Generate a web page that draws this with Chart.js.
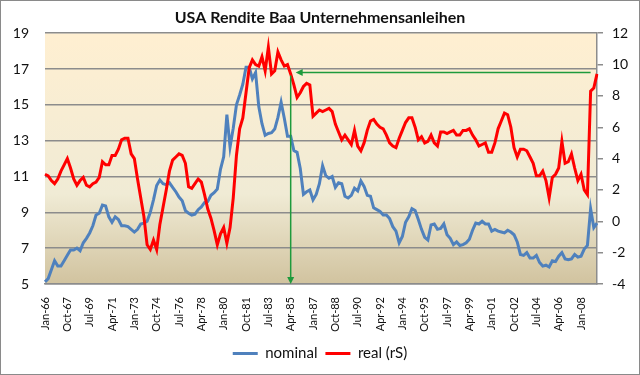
<!DOCTYPE html>
<html>
<head>
<meta charset="utf-8">
<script src="https://cdn.jsdelivr.net/npm/chart.js@4.4.1/dist/chart.umd.min.js"></script>
<style>
  html, body { margin: 0; padding: 0; background: #fff; }
  #wrap { width: 638px; height: 373px; border: 1px solid #8a8a8a; }
</style>
</head>
<body>
<div id="wrap"><canvas id="bondChart" width="638" height="373"></canvas></div>
<script>
// quarterly readings, Jan-66 .. Apr-09
const nominal = [
  5.12, 5.3, 5.8, 6.3,      // 1966
  6.0, 6.0, 6.3, 6.6,       // 1967
  6.9, 6.9, 7.0, 6.85,      // 1968
  7.3, 7.55, 7.85, 8.25,    // 1969
  8.85, 8.95, 9.4, 9.35,    // 1970
  8.75, 8.45, 8.75, 8.6,    // 1971
  8.25, 8.25, 8.2, 8.05,    // 1972
  7.9, 8.05, 8.35, 8.4,     // 1973
  8.5, 9.0, 9.7, 10.5,      // 1974
  10.8, 10.6, 10.55, 10.65, // 1975
  10.4, 10.15, 9.85, 9.65,  // 1976
  9.1, 8.95, 8.85, 8.9,     // 1977
  9.15, 9.3, 9.55, 9.6,     // 1978
  9.95, 10.1, 10.3, 11.4,   // 1979
  12.1, 14.45, 12.65, 13.7, // 1980
  15.0, 15.55, 16.15, 17.1, // 1981
  17.1, 16.45, 16.8, 14.9,  // 1982
  13.95, 13.3, 13.4, 13.45, // 1983
  13.65, 14.3, 15.15, 14.25,// 1984
  13.25, 13.25, 12.45, 12.35,// 1985
  11.45, 10.0, 10.15, 10.25,// 1986
  9.7, 10.0, 10.6, 11.6,    // 1987
  11.05, 10.9, 11.0, 10.4,  // 1988
  10.65, 10.6, 9.9, 9.8,    // 1989
  9.95, 10.35, 10.2, 10.75, // 1990
  10.45, 9.95, 9.9, 9.25,   // 1991
  9.15, 9.05, 8.85, 8.85,   // 1992
  8.65, 8.2, 7.95, 7.3,     // 1993
  7.65, 8.45, 8.75, 9.2,    // 1994
  9.1, 8.6, 8.05, 7.6,      // 1995
  7.45, 8.3, 8.35, 8.05,    // 1996
  8.1, 8.35, 7.75, 7.55,    // 1997
  7.2, 7.35, 7.15, 7.2,     // 1998
  7.3, 7.5, 8.0, 8.4,       // 1999
  8.35, 8.5, 8.35, 8.35,    // 2000
  7.95, 8.05, 7.95, 7.9,    // 2001
  7.85, 8.0, 7.9, 7.75,     // 2002
  7.35, 6.65, 6.6, 6.75,    // 2003
  6.45, 6.45, 6.6, 6.2,     // 2004
  6.0, 6.05, 5.95, 6.3,     // 2005
  6.25, 6.55, 6.75, 6.4,    // 2006
  6.35, 6.4, 6.65, 6.5,     // 2007
  6.55, 6.95, 7.15, 9.2,    // 2008
  8.15, 8.4                 // 2009
];

const realRS = [
  3.0, 2.9, 2.6, 2.4,       // 1966
  2.7, 3.2, 3.6, 4.0,       // 1967
  3.4, 2.7, 2.3, 2.6,       // 1968
  2.8, 2.3, 2.2, 2.4,       // 1969
  2.5, 2.8, 3.8, 3.6,       // 1970
  3.6, 4.2, 4.2, 4.6,       // 1971
  5.2, 5.3, 5.3, 4.3,       // 1972
  4.0, 2.7, 1.5, 0.3,       // 1973
  -1.5, -1.8, -1.2, -1.8,   // 1974
  -0.2, 0.9, 2.0, 3.2,      // 1975
  3.9, 4.1, 4.3, 4.2,       // 1976
  3.7, 2.2, 2.1, 2.4,       // 1977
  2.7, 2.5, 1.7, 0.8,       // 1978
  0.2, -0.6, -1.5, -0.8,    // 1979
  -0.4, -1.4, -0.4, 1.5,    // 1980
  4.2, 5.9, 6.6, 8.2,       // 1981
  9.8, 10.3, 10.0, 9.9,     // 1982
  10.5, 9.6, 11.1, 9.4,     // 1983
  9.6, 10.8, 10.3, 9.9,     // 1984
  10.0, 9.4, 8.7, 7.9,      // 1985
  8.2, 8.6, 8.8, 8.7,       // 1986
  6.7, 6.9, 7.1, 7.0,       // 1987
  7.1, 7.2, 7.0, 6.2,       // 1988
  5.7, 5.2, 5.5, 5.2,       // 1989
  4.9, 5.8, 4.8, 4.5,       // 1990
  5.0, 5.8, 6.4, 6.5,       // 1991
  6.2, 6.0, 5.9, 5.5,       // 1992
  5.0, 4.8, 4.7, 5.3,       // 1993
  5.8, 6.3, 6.6, 6.6,       // 1994
  6.0, 5.2, 5.4, 5.0,       // 1995
  5.1, 5.5, 5.0, 4.8,       // 1996
  5.7, 5.7, 5.6, 5.7,       // 1997
  5.8, 5.5, 5.5, 5.8,       // 1998
  5.8, 5.9, 5.5, 5.2,       // 1999
  4.8, 4.9, 5.0, 4.4,       // 2000
  4.4, 5.0, 5.9, 6.4,       // 2001
  6.9, 6.8, 6.0, 4.7,       // 2002
  4.1, 4.6, 4.6, 4.5,       // 2003
  4.1, 3.7, 2.9, 2.9,       // 2004
  3.2, 2.6, 1.5, 2.8,       // 2005
  3.0, 3.4, 5.1, 3.7,       // 2006
  3.8, 4.3, 3.4, 2.6,       // 2007
  3.0, 2.0, 1.7, 8.3,       // 2008
  8.5, 9.4                  // 2009
];

// category labels: one per quarter, every 7th shown (21 months apart)
const quarterMonths = ['Jan', 'Apr', 'Jul', 'Oct'];
const quarterLabels = [];
for (let yr = 1966; quarterLabels.length < nominal.length; yr++) {
  for (const mo of quarterMonths) {
    if (quarterLabels.length < nominal.length) {
      quarterLabels.push(mo + '-' + String(yr % 100).padStart(2, '0'));
    }
  }
}
const labelEvery = 7;

// left / right axis ranges
const leftTicks = { min: 5, max: 19, step: 2 };
const rightTicks = { min: -4, max: 12, step: 2 };

// green marker: from Apr-85 level across to late 2008
const markFrom = 'Apr-85';
const markTo = 'Oct-08';
const markLevel = 9.5;
const markTop = 9.3;

const GRID = '#8c8c8c';
const FONT = 'Lato, "Open Sans", sans-serif';

const bgPlugin = {
  id: 'plotBg',
  beforeDraw(chart) {
    const { ctx, chartArea: a } = chart;
    const g = ctx.createLinearGradient(0, a.top, 0, a.bottom);
    g.addColorStop(0, '#FFEFD1');
    g.addColorStop(0.64, '#F0EBD5');
    g.addColorStop(1, '#D1C39F');
    ctx.save();
    ctx.fillStyle = g;
    ctx.fillRect(a.left, a.top, a.right - a.left, a.bottom - a.top);
    ctx.restore();
  }
};

const arrowPlugin = {
  id: 'arrows',
  afterDatasetsDraw(chart) {
    const { ctx, scales } = chart;
    const xs = scales.x.getPixelForValue(quarterLabels.indexOf(markFrom));
    const xe = scales.x.getPixelForValue(quarterLabels.indexOf(markTo));
    const yl = scales.y1.getPixelForValue(markLevel);
    const yt = scales.y1.getPixelForValue(markTop);
    const yb = scales.y.getPixelForValue(leftTicks.min);
    ctx.save();
    ctx.strokeStyle = '#1e9a3c';
    ctx.fillStyle = '#1e9a3c';
    ctx.lineWidth = 1.5;
    // vertical, arrow down
    ctx.beginPath();
    ctx.moveTo(xs, yt);
    ctx.lineTo(xs, yb - 5);
    ctx.stroke();
    ctx.beginPath();
    ctx.moveTo(xs, yb);
    ctx.lineTo(xs - 3.5, yb - 7);
    ctx.lineTo(xs + 3.5, yb - 7);
    ctx.closePath();
    ctx.fill();
    // horizontal, arrow left
    const xh = xs + 5;
    ctx.beginPath();
    ctx.moveTo(xh + 5, yl);
    ctx.lineTo(xe, yl);
    ctx.stroke();
    ctx.beginPath();
    ctx.moveTo(xh, yl);
    ctx.lineTo(xh + 7, yl - 3.5);
    ctx.lineTo(xh + 7, yl + 3.5);
    ctx.closePath();
    ctx.fill();
    ctx.restore();
  }
};

const ctx = document.getElementById('bondChart').getContext('2d');
const bondChart = new Chart(ctx, {
  type: 'line',
  data: {
    labels: quarterLabels,
    datasets: [
      {
        label: 'nominal',
        data: nominal,
        yAxisID: 'y',
        borderColor: '#4F81BD',
        backgroundColor: '#4F81BD',
        borderWidth: 3,
        pointRadius: 0,
        order: 1,
        fill: false
      },
      {
        label: 'real (rS)',
        data: realRS,
        yAxisID: 'y1',
        borderColor: '#FF0000',
        backgroundColor: '#FF0000',
        borderWidth: 3,
        pointRadius: 0,
        order: 0,
        fill: false
      }
    ]
  },
  options: {
    responsive: false,
    animation: false,
    layout: { padding: { left: 0, right: 0, top: 0, bottom: 3 } },
    scales: {
      x: {
        offset: false,
        grid: { display: false, drawTicks: false },
        border: { display: true, color: GRID, width: 1.5 },
        ticks: {
          autoSkip: false,
          minRotation: 90,
          maxRotation: 90,
          padding: 13,
          color: '#111',
          font: { family: FONT, size: 11 },
          callback: (v, i) => (i % labelEvery === 0 ? quarterLabels[i] : '')
        },
        afterFit: (s) => { s.height = 54; }
      },
      y: {
        position: 'left',
        min: leftTicks.min,
        max: leftTicks.max,
        grid: { color: GRID, lineWidth: 1.5, drawTicks: false },
        border: { display: false },
        ticks: { stepSize: leftTicks.step, padding: 16, color: '#111', font: { family: FONT, size: 14 } },
        afterFit: (s) => { s.width = 44; }
      },
      y1: {
        position: 'right',
        min: rightTicks.min,
        max: rightTicks.max,
        grid: { drawOnChartArea: false, color: GRID, lineWidth: 1.5, tickLength: 6 },
        border: { display: true, color: GRID, width: 1.5 },
        ticks: { stepSize: rightTicks.step, padding: 9, color: '#111', font: { family: FONT, size: 14 } },
        afterFit: (s) => { s.width = 42; }
      }
    },
    plugins: {
      title: {
        display: true,
        text: 'USA Rendite Baa Unternehmensanleihen',
        color: '#111',
        font: { family: FONT, size: 16, weight: 'bold' },
        padding: { top: 7, bottom: 6 }
      },
      legend: {
        position: 'bottom',
        labels: {
          boxWidth: 25,
          boxHeight: 3,
          padding: 8,
          color: '#111',
          font: { family: FONT, size: 15 },
          sort: (a, b) => a.datasetIndex - b.datasetIndex,
          generateLabels: (chart) => Chart.defaults.plugins.legend.labels.generateLabels(chart)
            .map((l) => ({ ...l, lineWidth: 0, fillStyle: l.strokeStyle }))
        }
      },
      tooltip: { enabled: false }
    }
  },
  plugins: [bgPlugin, arrowPlugin]
});
</script>
</body>
</html>
